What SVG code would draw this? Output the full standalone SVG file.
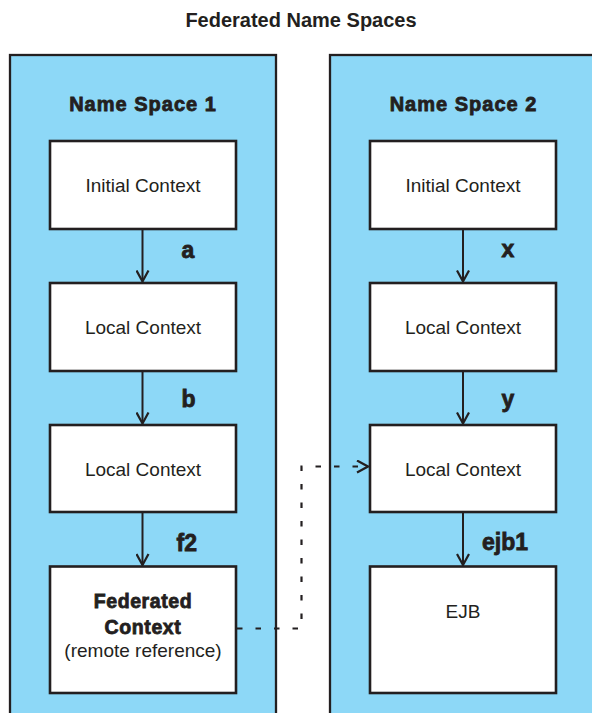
<svg xmlns="http://www.w3.org/2000/svg" width="592" height="713" viewBox="0 0 592 713">
<style>
.panel{fill:#8dd8f7;stroke:#231f20;stroke-width:2.3}
.box{fill:#ffffff;stroke:#231f20;stroke-width:2.6}
.t{font-family:"Liberation Sans",Arial,sans-serif;font-size:19px;fill:#231f20;text-anchor:middle}
.h{font-family:"Liberation Sans",Arial,sans-serif;font-weight:bold;fill:#231f20;stroke:#231f20;stroke-width:0.8}
.title{font-family:"Liberation Sans",Arial,sans-serif;font-weight:bold;font-size:20px;fill:#231f20;text-anchor:middle}
.edge{fill:none;stroke:#231f20;stroke-width:2}
.dot{fill:none;stroke:#231f20;stroke-width:2.2;stroke-dasharray:5.5 13}
</style>
<defs>
<marker id="arr" markerWidth="14" markerHeight="14" refX="12" refY="7" orient="auto" markerUnits="userSpaceOnUse">
<path d="M1,1 L12,7 L1,13" fill="none" stroke="#231f20" stroke-width="2.2"/>
</marker>
</defs>
<text class="title" x="301" y="26.5">Federated Name Spaces</text>
<g id="ns1">
<rect class="panel" x="10" y="55" width="266" height="700"/>
<text class="h" x="143" y="111" font-size="20" letter-spacing="1" text-anchor="middle">Name Space 1</text>
</g>
<g id="ns2">
<rect class="panel" x="330" y="55" width="300" height="700"/>
<text class="h" x="463.5" y="111" font-size="20" letter-spacing="1" text-anchor="middle">Name Space 2</text>
</g>
<g id="n1-initial"><rect class="box" x="50" y="141" width="186" height="88"/><text class="t" x="143" y="192">Initial Context</text></g>
<g id="n1-local1"><rect class="box" x="50" y="283" width="186" height="88"/><text class="t" x="143" y="334">Local Context</text></g>
<g id="n1-local2"><rect class="box" x="50" y="425" width="186" height="87"/><text class="t" x="143" y="475.5">Local Context</text></g>
<g id="n1-federated"><rect class="box" x="50" y="566.5" width="186" height="126.5"/>
<text class="h" x="143" y="608.3" font-size="19.5" letter-spacing="0.6" text-anchor="middle">Federated</text>
<text class="h" x="143" y="634" font-size="19.5" letter-spacing="0.6" text-anchor="middle">Context</text>
<text class="t" x="143" y="656.5">(remote reference)</text></g>
<g id="n2-initial"><rect class="box" x="370" y="141" width="186" height="88"/><text class="t" x="463" y="192">Initial Context</text></g>
<g id="n2-local1"><rect class="box" x="370" y="283" width="186" height="88"/><text class="t" x="463" y="334">Local Context</text></g>
<g id="n2-local2"><rect class="box" x="370" y="425" width="186" height="87"/><text class="t" x="463" y="475.5">Local Context</text></g>
<g id="n2-ejb"><rect class="box" x="370" y="566.5" width="186" height="126.5"/><text class="t" x="463" y="618">EJB</text></g>
<g id="connectors">
<path class="edge" d="M142.5,229 V281.5" marker-end="url(#arr)"/>
<path class="edge" d="M142.5,371 V423.5" marker-end="url(#arr)"/>
<path class="edge" d="M142.5,512 V565" marker-end="url(#arr)"/>
<path class="edge" d="M463,229 V281.5" marker-end="url(#arr)"/>
<path class="edge" d="M463,371 V423.5" marker-end="url(#arr)"/>
<path class="edge" d="M463,512 V565" marker-end="url(#arr)"/>
<path class="dot" d="M237,628.5 H301.5 V466.5 H368" marker-end="url(#arr)"/>
<text class="h" x="181.5" y="258" font-size="23">a</text>
<text class="h" x="181.5" y="406.5" font-size="23">b</text>
<text class="h" x="176.5" y="551" font-size="23">f2</text>
<text class="h" x="501.5" y="257" font-size="23">x</text>
<text class="h" x="501.5" y="406.5" font-size="23">y</text>
<text class="h" x="482" y="550" font-size="23">ejb1</text>
</g>
</svg>
